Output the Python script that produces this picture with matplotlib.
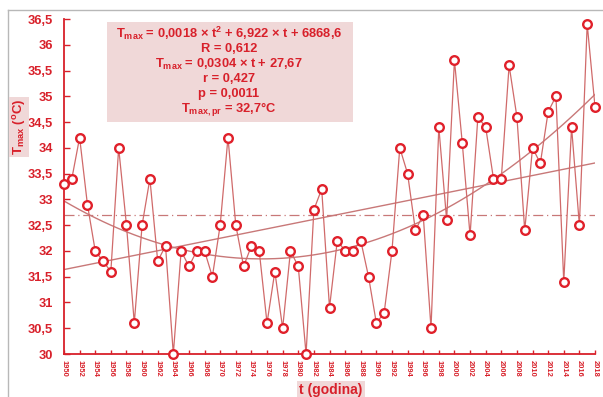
import numpy as np
import matplotlib
matplotlib.use("Agg")
import matplotlib.pyplot as plt
from matplotlib.lines import Line2D
from matplotlib.patches import Rectangle

years = list(range(1950, 2019))
tmax = [33.3, 33.4, 34.2, 32.9, 32.0, 31.8, 31.6, 34.0, 32.5, 30.6,
        32.5, 33.4, 31.8, 32.1, 30.0, 32.0, 31.7, 32.0, 32.0, 31.5,
        32.5, 34.2, 32.5, 31.7, 32.1, 32.0, 30.6, 31.6, 30.5, 32.0,
        31.7, 30.0, 32.8, 33.2, 30.9, 32.2, 32.0, 32.0, 32.2, 31.5,
        30.6, 30.8, 32.0, 34.0, 33.5, 32.4, 32.7, 30.5, 34.4, 32.6,
        35.7, 34.1, 32.3, 34.6, 34.4, 33.4, 33.4, 35.6, 34.6, 32.4,
        34.0, 33.7, 34.7, 35.0, 31.4, 34.4, 32.5, 36.4, 34.8]
mean_value = 32.7
ytick_vals = [30, 30.5, 31, 31.5, 32, 32.5, 33, 33.5, 34, 34.5, 35, 35.5, 36, 36.5]
ytick_labels = ["30", "30,5", "31", "31,5", "32", "32,5", "33", "33,5", "34",
                "34,5", "35", "35,5", "36", "36,5"]
xtick_vals = list(range(1950, 2019, 2))
box_lines = [r"T$_{max}$ = 0,0018 × t$^{2}$ + 6,922 × t + 6868,6",
             "R = 0,612",
             r"T$_{max}$ = 0,0304 × t + 27,67",
             "r = 0,427",
             "p = 0,0011",
             r"T$_{max,pr}$ = 32,7°C"]

plt.rcParams['font.family'] = ['Liberation Sans', 'DejaVu Sans']
plt.rcParams['mathtext.fontset'] = 'custom'
plt.rcParams['mathtext.rm'] = 'Liberation Sans:bold'
plt.rcParams['mathtext.it'] = 'Liberation Sans:bold'
plt.rcParams['mathtext.bf'] = 'Liberation Sans:bold'
plt.rcParams['mathtext.default'] = 'regular'

RED = "#d8202a"
LINE = "#d06a6a"
TREND = "#c87878"
BG = "#f0d8d8"

W, H = 603, 397
fig = plt.figure(figsize=(W / 100, H / 100), dpi=100)
fig.patch.set_facecolor("white")

# grey frame
fig.add_artist(Line2D([8 / W, 8 / W], [0, 1 - 10 / H], transform=fig.transFigure,
                      color="#b8b8b8", lw=1))
fig.add_artist(Line2D([8 / W, 1], [1 - 10 / H, 1 - 10 / H], transform=fig.transFigure,
                      color="#b8b8b8", lw=1))

ax = fig.add_axes([64 / W, 1 - 354 / H, (595 - 64) / W, (354 - 19) / H])
ax.set_facecolor("none")

x = np.array(years, dtype=float)
y = np.array(tmax)

# trend lines fitted from the data
p1 = np.polyfit(x, y, 1)
p2 = np.polyfit(x, y, 2)
ax.plot(x, np.polyval(p1, x), color=TREND, lw=1.0, zorder=2)
ax.plot(x, np.polyval(p2, x), color=TREND, lw=1.0, zorder=2)
ax.plot([years[0], years[-1]], [mean_value, mean_value], color=TREND, lw=0.9,
        linestyle=(0, (8, 3, 1, 3)), zorder=2)

ax.plot(x, y, color=LINE, lw=0.9, zorder=3)
ax.plot(x, y, linestyle="none", marker="o", markersize=6.2, markerfacecolor="white",
        markeredgecolor="#e0202a", markeredgewidth=1.7, zorder=4, clip_on=False)

ax.set_xlim(1950, 2018)
ax.set_ylim(30, 36.5)
for s in ["top", "right"]:
    ax.spines[s].set_visible(False)
for s in ["left", "bottom"]:
    ax.spines[s].set_color(RED)
    ax.spines[s].set_linewidth(1.3)

ax.set_yticks(ytick_vals)
ax.set_yticklabels(ytick_labels)
ax.set_xticks(xtick_vals)
ax.set_xticklabels([str(v) for v in xtick_vals], rotation=-90)
ax.tick_params(axis="y", direction="in", length=4, width=1, color=RED,
               labelcolor=RED, labelsize=9.3, pad=8)
ax.tick_params(axis="x", direction="in", length=3, width=1, color=RED,
               labelcolor=RED, labelsize=5.4, pad=4)
for lab in ax.get_yticklabels():
    lab.set_fontweight("bold")
for lab in ax.get_xticklabels():
    lab.set_fontweight("bold")

# axis labels
fig.text(19 / W, 1 - 127 / H, r"T$_{max}$ ($^{o}$C)", rotation=90, ha="center", va="center",
         color=RED, fontsize=9.5, fontweight="bold",
         bbox=dict(boxstyle="square,pad=0.15", facecolor=BG, edgecolor="none"))
fig.text(331 / W, 1 - 390 / H, "t (godina)", ha="center", va="center",
         color=RED, fontsize=10, fontweight="bold",
         bbox=dict(boxstyle="square,pad=0.15", facecolor=BG, edgecolor="none"))

# equations box
fig.add_artist(Rectangle((107 / W, 1 - 122 / H), 246 / W, 100 / H,
                         transform=fig.transFigure, facecolor=BG, edgecolor="none",
                         zorder=1))
line_y = [33, 49, 64, 79, 94, 110]
for txt, yy in zip(box_lines, line_y):
    fig.text(229 / W, 1 - yy / H, txt, ha="center", va="center", color=RED,
             fontsize=9.3, fontweight="bold", zorder=2)

fig.savefig("out.png", dpi=100)
